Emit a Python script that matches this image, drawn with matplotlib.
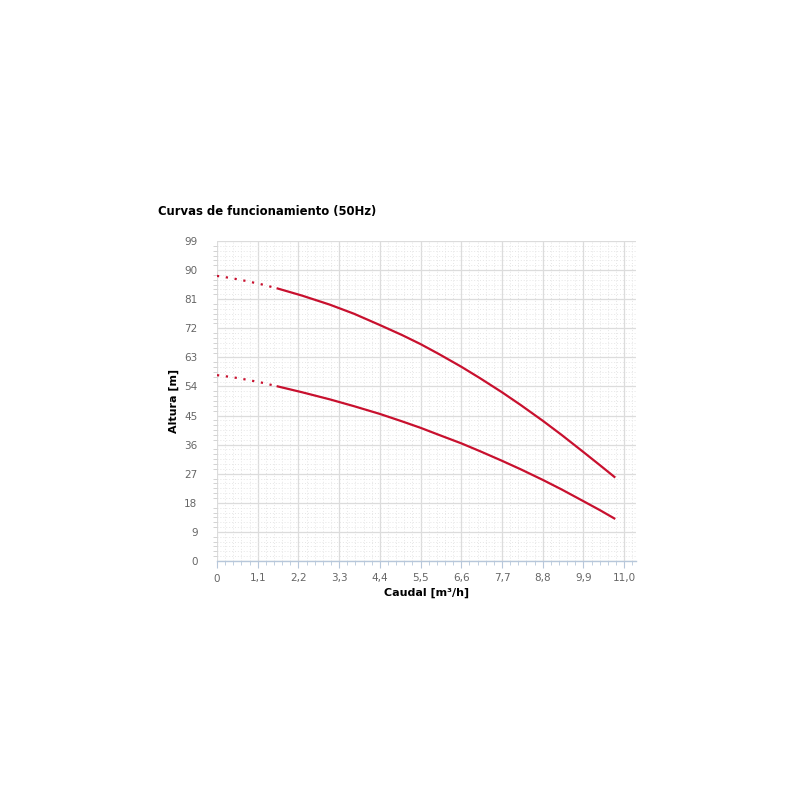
"""Pump performance curves (50Hz) redrawn from a reference chart."""

import matplotlib

matplotlib.use("Agg")

import matplotlib.pyplot as plt
from matplotlib.ticker import FixedLocator, FuncFormatter, MultipleLocator

TITLE = "Curvas de funcionamiento (50Hz)"
X_LABEL = "Caudal [m³/h]"
Y_LABEL = "Altura [m]"

# Flow ticks and head ticks as printed on the axes
X_TICKS = [0, 1.1, 2.2, 3.3, 4.4, 5.5, 6.6, 7.7, 8.8, 9.9, 11.0]
Y_TICKS = [0, 9, 18, 27, 36, 45, 54, 63, 72, 81, 90, 99]

# Upper curve: dotted start, then solid operating range
UPPER_DOT_Q = [0.0, 0.4, 0.8, 1.2, 1.61]
UPPER_DOT_H = [88.2, 87.5, 86.6, 85.6, 84.4]
UPPER_Q = [1.61, 2.3, 3.05, 3.7, 4.4, 5.0, 5.5, 6.0, 6.6, 7.1, 7.7, 8.2, 8.8, 9.3, 9.9, 10.35, 10.76]
UPPER_H = [84.4, 82.1, 79.3, 76.5, 73.0, 69.9, 67.1, 64.0, 60.1, 56.6, 52.2, 48.3, 43.4, 39.1, 33.7, 29.6, 25.8]

# Lower curve
LOWER_DOT_Q = [0.0, 0.4, 0.8, 1.2, 1.61]
LOWER_DOT_H = [57.5, 56.9, 56.1, 55.2, 54.1]
LOWER_Q = [1.61, 2.3, 3.05, 3.7, 4.4, 5.0, 5.5, 6.0, 6.6, 7.1, 7.7, 8.2, 8.8, 9.3, 9.9, 10.35, 10.76]
LOWER_H = [54.1, 52.2, 50.0, 47.9, 45.5, 43.2, 41.2, 39.0, 36.4, 34.0, 31.0, 28.4, 25.1, 22.2, 18.5, 15.7, 13.0]

LINE_COLOR = "#c8102e"
GRID_MAJOR = "#dcdcdc"
GRID_MINOR = "#e6e6e6"
AXIS_COLOR = "#b7c7da"
TICK_TEXT = "#666666"


def comma(value, _pos):
    return f"{value:.1f}".replace(".", ",") if value else "0"


def main() -> None:
    fig = plt.figure(figsize=(8, 8), dpi=100)
    ax = fig.add_axes([0.27125, 0.29875, 0.52375, 0.4])

    ax.plot(UPPER_DOT_Q, UPPER_DOT_H, color=LINE_COLOR, lw=1.6, dashes=(1, 3), zorder=3)
    ax.plot(UPPER_Q, UPPER_H, color=LINE_COLOR, lw=1.6, zorder=3, solid_capstyle="butt")
    ax.plot(LOWER_DOT_Q, LOWER_DOT_H, color=LINE_COLOR, lw=1.6, dashes=(1, 3), zorder=3)
    ax.plot(LOWER_Q, LOWER_H, color=LINE_COLOR, lw=1.6, zorder=3, solid_capstyle="butt")

    ax.set_xlim(0, 11.32)
    ax.set_ylim(0, 99)
    ax.xaxis.set_major_locator(FixedLocator(X_TICKS))
    ax.xaxis.set_major_formatter(FuncFormatter(comma))
    ax.xaxis.set_minor_locator(MultipleLocator(0.22))
    ax.yaxis.set_major_locator(FixedLocator(Y_TICKS))
    ax.yaxis.set_minor_locator(MultipleLocator(1.5))

    ax.grid(which="major", color=GRID_MAJOR, lw=0.9, zorder=0)
    ax.grid(which="minor", color=GRID_MINOR, lw=0.7, ls=(0, (1, 2)), zorder=0)
    ax.set_axisbelow(True)

    for side in ("top", "right", "left"):
        ax.spines[side].set_visible(False)
    ax.spines["bottom"].set_color(AXIS_COLOR)
    ax.spines["bottom"].set_linewidth(1.0)

    ax.tick_params(axis="x", which="major", length=5, color=AXIS_COLOR, labelsize=7.5,
                   labelcolor=TICK_TEXT, pad=4)
    ax.tick_params(axis="x", which="minor", length=3, color=AXIS_COLOR)
    ax.tick_params(axis="y", which="major", length=0, labelsize=7.5, labelcolor=TICK_TEXT, pad=14)
    ax.tick_params(axis="y", which="minor", length=3, color="#cccccc")

    ax.set_xlabel(X_LABEL, fontsize=8, fontweight="bold", labelpad=3)
    ax.set_ylabel(Y_LABEL, fontsize=8, fontweight="bold", labelpad=4)

    fig.text(158 / 800, 1 - 212 / 800, TITLE, fontsize=8.4, fontweight="bold",
             va="center", ha="left")

    fig.savefig("out.png", dpi=100, facecolor="white")
    plt.close(fig)


if __name__ == "__main__":
    main()
